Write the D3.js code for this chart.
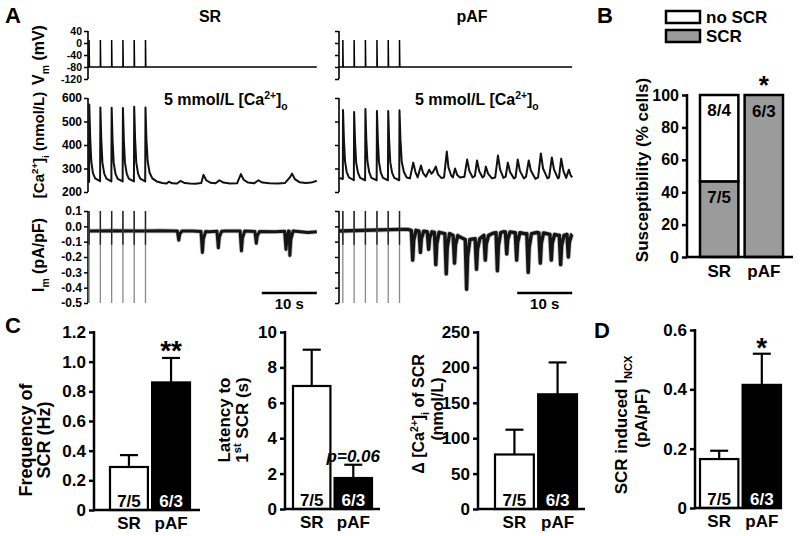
<!DOCTYPE html>
<html><head><meta charset="utf-8">
<script src="https://cdn.jsdelivr.net/npm/d3@7"></script>
<style>body{margin:0;background:#fff}svg{display:block}text{font-family:Arial,"Liberation Sans",sans-serif}</style>
</head><body><svg id="chart" width="800" height="536"></svg>
<script>
// ---------------- DATA ----------------
// Panel A: stimulation times (s) and traces
const stimSR = [0.2, 2.25, 4.3, 6.35, 8.4, 10.45];
const stimPAF = [0.7, 2.75, 4.8, 6.9, 8.95, 11.0];
const durSR = 41.6, durPAF = 42.4;
const vmRest = -80, vmPeak = 10;
const vmTicks = [40, 0, -40, -80, -120];
const caTicks = [600, 500, 400, 300, 200];
const imTicks = [0.1, 0.0, -0.1, -0.2, -0.3, -0.4, -0.5];
const caSR = [[0,245],[0.2,243],[0.23,572],[0.4,430],[0.6,330],[0.9,280],[1.3,258],[2.2,246],
 [2.25,560],[2.42,420],[2.62,325],[2.95,278],[3.35,257],[4.25,245],
 [4.3,558],[4.47,418],[4.67,325],[5.0,277],[5.4,256],[6.3,245],
 [6.35,557],[6.52,418],[6.72,325],[7.05,277],[7.45,256],[8.35,245],
 [8.4,563],[8.57,422],[8.77,327],[9.1,278],[9.5,257],[10.4,245],
 [10.45,560],[10.62,425],[10.85,330],[11.2,282],[11.7,258],[12.5,245],[13.5,238],[14.3,236],[14.7,244],[15.3,237],
 [16.2,236],[16.8,247],[17.6,238],[18.5,236],[19.5,235],[20.6,238],[21.0,273],[21.5,250],[22.3,239],[23.2,237],
 [23.9,250],[24.6,240],[25.8,236],[27.1,237],[27.8,276],[28.3,252],[29.1,240],[30.2,237],[31.0,250],[31.7,240],
 [33,237],[34.5,236],[35.8,238],[36.7,262],[37.1,278],[37.6,255],[38.5,241],[39.6,238],[40.6,240],[41.6,248]];
const caPAF = [[0,260],[0.7,255],[0.73,549],[0.9,420],[1.1,330],[1.4,285],[1.8,262],[2.7,250],
 [2.75,540],[2.92,415],[3.12,325],[3.45,282],[3.85,260],[4.75,250],
 [4.8,553],[4.97,420],[5.17,330],[5.5,283],[5.9,260],[6.85,250],
 [6.9,545],[7.07,418],[7.27,327],[7.6,282],[8.0,260],[8.9,250],
 [8.95,545],[9.12,418],[9.32,327],[9.65,282],[10.05,260],[10.95,250],
 [11.0,548],[11.17,425],[11.4,330],[11.8,285],[12.3,262],
 [12.9,258],[13.5,325],[13.9,285],[14.3,262],[14.9,313],[15.3,280],[15.8,265],[16.4,295],[16.8,278],[17.1,285],
 [17.6,308],[18.0,275],[18.6,260],[19.1,262],[19.6,372],[19.9,305],[20.4,270],[20.7,262],[21.1,300],[21.5,272],
 [22.0,262],[22.8,265],[23.3,338],[23.7,290],[24.3,262],[24.7,268],[25.1,334],[25.5,288],[26.1,262],[26.4,268],
 [26.7,308],[27.1,278],[27.8,258],[28.4,262],[28.9,355],[29.3,295],[29.9,260],[30.3,265],[30.7,325],[31.1,285],
 [31.8,258],[32.1,262],[32.5,338],[32.9,290],[33.6,258],[34.0,265],[34.5,334],[34.9,290],[35.7,256],[36.2,262],
 [36.7,364],[37.1,300],[37.9,258],[38.2,262],[38.7,347],[39.1,295],[39.8,258],[40.0,262],[40.4,342],[40.8,290],
 [41.3,260],[41.8,295],[42.1,272],[42.4,262]];
const imBaseSR = [[0,-0.03],[5,-0.028],[10,-0.03],[13,-0.028],[16,-0.03],[19,-0.03],[22,-0.035],[25,-0.03],
 [28,-0.03],[31,-0.035],[34,-0.035],[37,-0.03],[40,-0.04],[41.6,-0.035]];
const imDipsSR = [[16.5,-0.09],[20.8,-0.17],[23.7,-0.14],[27.9,-0.16],[30.6,-0.11],[36.0,-0.15],[36.7,-0.19]];
const imBasePAF = [[0,-0.03],[11,-0.02],[12.5,-0.02],[14,-0.03],[16,-0.035],[18,-0.04],[20,-0.05],[22,-0.07],
 [23.5,-0.09],[25,-0.08],[26.5,-0.06],[28,-0.045],[30,-0.035],[32,-0.04],[34,-0.05],[36,-0.04],[38,-0.05],[40,-0.06],[42.4,-0.05]];
const imDipsPAF = [[13.4,-0.22],[14.8,-0.17],[16.3,-0.15],[17.6,-0.25],[19.5,-0.31],[21.0,-0.24],[23.2,-0.41],
 [25.0,-0.28],[26.6,-0.22],[28.8,-0.29],[30.5,-0.18],[32.3,-0.22],[34.4,-0.30],[36.6,-0.24],[38.6,-0.22],[40.3,-0.25],[41.7,-0.2]];
const stimImTop = 0.1, stimImBottom = -0.5;

// Panels B-D
const barCats = ['SR', 'pAF'];
const nLabels = ['7/5', '6/3'];
const suscSCR = [46.7, 100];
const suscNoSCR = [53.3, 0];
const suscLabelsSCR = ['7/5', '6/3'];
const suscLabelsNo = ['8/4', ''];
const suscTicks = [0, 20, 40, 60, 80, 100];
const freqMean = [0.29, 0.86], freqErr = [0.08, 0.165];
const freqTicks = [0, 0.2, 0.4, 0.6, 0.8, 1.0, 1.2];
const latMean = [6.95, 1.75], latErr = [2.05, 0.75];
const latTicks = [0, 2, 4, 6, 8, 10];
const dcaMean = [77, 162], dcaErr = [35, 45];
const dcaTicks = [0, 50, 100, 150, 200, 250];
const ncxMean = [0.165, 0.415], ncxErr = [0.028, 0.105];
const ncxTicks = [0, 0.2, 0.4, 0.6];

// ---------------- DRAW ----------------
const svg = d3.select('#chart');
svg.append('rect').attr('width', 800).attr('height', 536).attr('fill', '#fff');

function addText(g, x, y, parts, fs, o = {}) {
  const t = g.append('text').attr('x', x).attr('y', y).attr('font-size', fs)
    .attr('text-anchor', o.anchor || 'start').attr('fill', o.fill || '#000')
    .attr('font-weight', o.weight || 'bold').attr('font-style', o.style || 'normal');
  if (o.rotate) t.attr('transform', `rotate(-90 ${x} ${y})`);
  if (typeof parts === 'string') parts = [{t: parts}];
  let cur = 0;
  parts.forEach(p => {
    const target = p.sub ? fs * 0.3 : p.sup ? -fs * 0.4 : 0;
    const ts = t.append('tspan').text(p.t).attr('dy', target - cur);
    if (p.sub || p.sup) ts.attr('font-size', fs * 0.65);
    cur = target;
  });
  return t;
}

function styleAxis(ga, w, fs) {
  ga.select('.domain').remove();
  ga.selectAll('line').attr('stroke', '#000').attr('stroke-width', w);
  ga.selectAll('text').attr('font-size', fs).attr('font-weight', 'bold').attr('fill', '#000')
    .attr('font-family', 'Arial, "Liberation Sans", sans-serif');
}

// Panel letters and titles
addText(svg, 5, 23, 'A', 22);
addText(svg, 597, 23, 'B', 22);
addText(svg, 5, 333, 'C', 22);
addText(svg, 594, 338, 'D', 22);
addText(svg, 210, 22, 'SR', 16, {anchor: 'middle'});
addText(svg, 472, 22, 'pAF', 16, {anchor: 'middle'});

const pxPerSec = 5.5;
const yVm = d3.scaleLinear().domain([-120, 40]).range([79, 31]);
const yCa = d3.scaleLinear().domain([200, 600]).range([192, 98]);
const yIm = d3.scaleLinear().domain([-0.5, 0.1]).range([303, 211]);

function tracePanel(ax, dur, stim, caPts, imBase, imDips, labels, imW) {
  const g = svg.append('g');
  const x = d3.scaleLinear().domain([0, dur]).range([ax, ax + dur * pxPerSec]);
  const ln = (ys) => d3.line().x(d => x(d[0])).y(d => ys(d[1]));
  const axes = [[yVm, vmTicks, d => String(d), [31, 79], 10.5], [yCa, caTicks, d => String(d), [98, 192], 12],
                [yIm, imTicks, d => d.toFixed(1), [211, 303], 12]];
  axes.forEach(([ys, tv, fmt, r, fs]) => {
    const a = d3.axisLeft(ys).tickValues(tv).tickSize(4).tickSizeOuter(0).tickPadding(2)
      .tickFormat(labels ? fmt : () => '');
    const ga = g.append('g').attr('transform', `translate(${ax},0)`).call(a);
    styleAxis(ga, 1.5, fs);
    g.append('line').attr('x1', ax).attr('x2', ax).attr('y1', r[0]).attr('y2', r[1])
      .attr('stroke', '#000').attr('stroke-width', 1.6);
  });
  // Vm
  const vmPts = [[0, vmRest]];
  stim.forEach(s => vmPts.push([s, vmRest], [s, vmPeak], [s + 0.06, vmRest]));
  vmPts.push([dur, vmRest]);
  g.append('path').attr('d', ln(yVm)(vmPts)).attr('fill', 'none').attr('stroke', '#000').attr('stroke-width', 1.5);
  // Ca
  g.append('path').attr('d', ln(yCa)(caPts)).attr('fill', 'none').attr('stroke', '#111')
    .attr('stroke-width', 2).attr('stroke-linejoin', 'round');
  // Im
  const bs = d3.scaleLinear().domain(imBase.map(d => d[0])).range(imBase.map(d => d[1]));
  const pts = [];
  imDips.forEach(([t, v]) => { const b = bs(t); pts.push([t - 0.25, b], [t, v], [t + 0.18, b + (v - b) * 0.35], [t + 0.6, b]); });
  imBase.forEach(p => { if (!imDips.some(([t]) => p[0] > t - 0.3 && p[0] < t + 0.65)) pts.push(p); });
  pts.sort((a, b) => a[0] - b[0]);
  g.append('path').attr('d', ln(yIm)(pts)).attr('fill', 'none').attr('stroke', '#777')
    .attr('stroke-width', imW + 1.6).attr('stroke-linejoin', 'round').attr('opacity', 0.45);
  g.append('path').attr('d', ln(yIm)(pts)).attr('fill', 'none').attr('stroke', '#151515')
    .attr('stroke-width', imW).attr('stroke-linejoin', 'round');
  stim.forEach(s => {
    g.append('line').attr('x1', x(s)).attr('x2', x(s)).attr('y1', yIm(stimImTop)).attr('y2', yIm(stimImBottom))
      .attr('stroke', '#8a8a8a').attr('stroke-width', 1.3);
    g.append('line').attr('x1', x(s)).attr('x2', x(s)).attr('y1', yIm(stimImTop)).attr('y2', yIm(-0.12))
      .attr('stroke', '#222').attr('stroke-width', 1.4);
  });
  // Ca label
  addText(g, ax + 76, 105, [{t: '5 mmol/L [Ca'}, {t: '2+', sup: true}, {t: ']'}, {t: 'o', sub: true}], 16);
  // scale bar 10 s
  const xe = x(dur), xs = xe - 10 * pxPerSec;
  g.append('line').attr('x1', xs).attr('x2', xe).attr('y1', 293).attr('y2', 293).attr('stroke', '#000').attr('stroke-width', 2.5);
  addText(g, (xs + xe) / 2, 309, '10 s', 15, {anchor: 'middle'});
}
tracePanel(88, durSR, stimSR, caSR, imBaseSR, imDipsSR, true, 3.0);
tracePanel(339, durPAF, stimPAF, caPAF, imBasePAF, imDipsPAF, false, 3.4);

// A y labels
addText(svg, 44, 55, [{t: 'V'}, {t: 'm', sub: true}, {t: ' (mV)'}], 16, {anchor: 'middle', rotate: true});
addText(svg, 44, 145, [{t: '[Ca'}, {t: '2+', sup: true}, {t: ']'}, {t: 'i', sub: true}, {t: ' (nmol/L)'}], 15, {anchor: 'middle', rotate: true});
addText(svg, 44, 255, [{t: 'I'}, {t: 'm', sub: true}, {t: ' (pA/pF)'}], 16, {anchor: 'middle', rotate: true});

// ---- Bar panels ----
function barPanel(o) {
  const g = svg.append('g');
  const y = d3.scaleLinear().domain([0, o.max]).range([o.yb, o.yt]);
  const x = d3.scaleBand().domain(barCats).range(o.bx).paddingInner(0.1);
  barCats.forEach((c, i) => {
    const fill = i === 0 ? '#fff' : '#000';
    g.append('line').attr('x1', x(c) + x.bandwidth() / 2).attr('x2', x(c) + x.bandwidth() / 2)
      .attr('y1', y(o.mean[i])).attr('y2', y(o.mean[i] + o.err[i])).attr('stroke', '#000').attr('stroke-width', 2.2);
    g.append('line').attr('x1', x(c) + x.bandwidth() / 2 - 9).attr('x2', x(c) + x.bandwidth() / 2 + 9)
      .attr('y1', y(o.mean[i] + o.err[i])).attr('y2', y(o.mean[i] + o.err[i])).attr('stroke', '#000').attr('stroke-width', 2.2);
    g.append('rect').attr('x', x(c)).attr('width', x.bandwidth()).attr('y', y(o.mean[i]))
      .attr('height', y(0) - y(o.mean[i])).attr('fill', fill).attr('stroke', '#000').attr('stroke-width', 2.2);
    addText(g, x(c) + x.bandwidth() / 2, o.yb - 3, nLabels[i], 17, {anchor: 'middle', fill: i === 0 ? '#000' : '#fff'});
    addText(g, x(c) + x.bandwidth() / 2, o.yb + 19, c, 17, {anchor: 'middle'});
  });
  const a = d3.axisLeft(y).tickValues(o.ticks).tickSize(5).tickSizeOuter(0).tickPadding(3).tickFormat(o.fmt);
  const ga = g.append('g').attr('transform', `translate(${o.ax},0)`).call(a);
  styleAxis(ga, 2.5, 17);
  g.append('line').attr('x1', o.ax).attr('x2', o.ax).attr('y1', o.yt - 1).attr('y2', o.yb + 1.25).attr('stroke', '#000').attr('stroke-width', 2.5);
  g.append('line').attr('x1', o.ax).attr('x2', o.xEnd).attr('y1', o.yb).attr('y2', o.yb).attr('stroke', '#000').attr('stroke-width', 2.5);
  return {g, x, y};
}
const f1 = d => d === 0 ? '0' : d.toFixed(1);
const c1 = barPanel({ax: 94, xEnd: 200, yt: 332, yb: 510, max: 1.2, ticks: freqTicks, fmt: f1, bx: [110, 190], mean: freqMean, err: freqErr});
addText(svg, c1.x('pAF') + c1.x.bandwidth() / 2, 360, '**', 28, {anchor: 'middle'});
addText(svg, 32, 440, 'Frequency of', 18, {anchor: 'middle', rotate: true});
addText(svg, 50, 440, 'SCR  (Hz)', 18, {anchor: 'middle', rotate: true});

const c2 = barPanel({ax: 285, xEnd: 380, yt: 332, yb: 509, max: 10, ticks: latTicks, fmt: d => String(d), bx: [293, 372], mean: latMean, err: latErr});
addText(svg, c2.x('pAF') + c2.x.bandwidth() / 2, 462, 'p=0.06', 17, {anchor: 'middle', style: 'italic'});
addText(svg, 230, 420, 'Latency to', 17, {anchor: 'middle', rotate: true});
addText(svg, 248, 420, [{t: '1'}, {t: 'st', sup: true}, {t: ' SCR (s)'}], 17, {anchor: 'middle', rotate: true});

const c3 = barPanel({ax: 478, xEnd: 585, yt: 332, yb: 509, max: 250, ticks: dcaTicks, fmt: d => String(d), bx: [495, 577], mean: dcaMean, err: dcaErr});
addText(svg, 424, 414, [{t: 'Δ [Ca'}, {t: '2+', sup: true}, {t: ']'}, {t: 'i', sub: true}, {t: ' of SCR'}], 16, {anchor: 'middle', rotate: true});
addText(svg, 443, 409, '(nmol/L)', 16, {anchor: 'middle', rotate: true});

const d1 = barPanel({ax: 695, xEnd: 782, yt: 330, yb: 508, max: 0.6, ticks: ncxTicks, fmt: f1, bx: [700, 781], mean: ncxMean, err: ncxErr});
addText(svg, d1.x('pAF') + d1.x.bandwidth() / 2, 357, '*', 28, {anchor: 'middle'});
addText(svg, 627, 425, [{t: 'SCR induced I'}, {t: 'NCX', sub: true}], 17, {anchor: 'middle', rotate: true});
addText(svg, 647, 418, '(pA/pF)', 17, {anchor: 'middle', rotate: true});

// ---- Panel B ----
(function () {
  const g = svg.append('g');
  const y = d3.scaleLinear().domain([0, 100]).range([257, 95]);
  const x = d3.scaleBand().domain(barCats).range([700, 783]).paddingInner(0.14);
  barCats.forEach((c, i) => {
    const bw = x.bandwidth(), cx = x(c) + bw / 2;
    g.append('rect').attr('x', x(c)).attr('width', bw).attr('y', y(suscSCR[i])).attr('height', y(0) - y(suscSCR[i]))
      .attr('fill', '#9b9b9b').attr('stroke', '#000').attr('stroke-width', 2.5);
    if (suscNoSCR[i] > 0) {
      g.append('rect').attr('x', x(c)).attr('width', bw).attr('y', y(suscSCR[i] + suscNoSCR[i]))
        .attr('height', y(suscSCR[i]) - y(suscSCR[i] + suscNoSCR[i])).attr('fill', '#fff').attr('stroke', '#000').attr('stroke-width', 2.5);
      addText(g, cx, y(suscSCR[i] + suscNoSCR[i]) + 21, suscLabelsNo[i], 17, {anchor: 'middle'});
    }
    addText(g, cx, y(suscSCR[i]) + 22, suscLabelsSCR[i], 17, {anchor: 'middle'});
    addText(g, cx, 277, c, 17, {anchor: 'middle'});
  });
  addText(g, x('pAF') + x.bandwidth() / 2, 94, '*', 26, {anchor: 'middle'});
  const a = d3.axisLeft(y).tickValues(suscTicks).tickSize(5).tickSizeOuter(0).tickPadding(3);
  const ga = g.append('g').attr('transform', 'translate(687,0)').call(a);
  styleAxis(ga, 2.5, 16);
  g.append('line').attr('x1', 687).attr('x2', 687).attr('y1', 94).attr('y2', 258).attr('stroke', '#000').attr('stroke-width', 2.5);
  g.append('line').attr('x1', 687).attr('x2', 793).attr('y1', 257).attr('y2', 257).attr('stroke', '#000').attr('stroke-width', 2.5);
  addText(g, 648, 170, 'Susceptibility (% cells)', 17, {anchor: 'middle', rotate: true});
  // legend
  g.append('rect').attr('x', 666).attr('y', 11).attr('width', 34).attr('height', 12).attr('fill', '#fff').attr('stroke', '#000').attr('stroke-width', 2.5);
  g.append('rect').attr('x', 666).attr('y', 30).attr('width', 34).attr('height', 12).attr('fill', '#9b9b9b').attr('stroke', '#000').attr('stroke-width', 2.5);
  addText(g, 706, 23, 'no SCR', 17);
  addText(g, 706, 42, 'SCR', 17);
})();
</script></body></html>
